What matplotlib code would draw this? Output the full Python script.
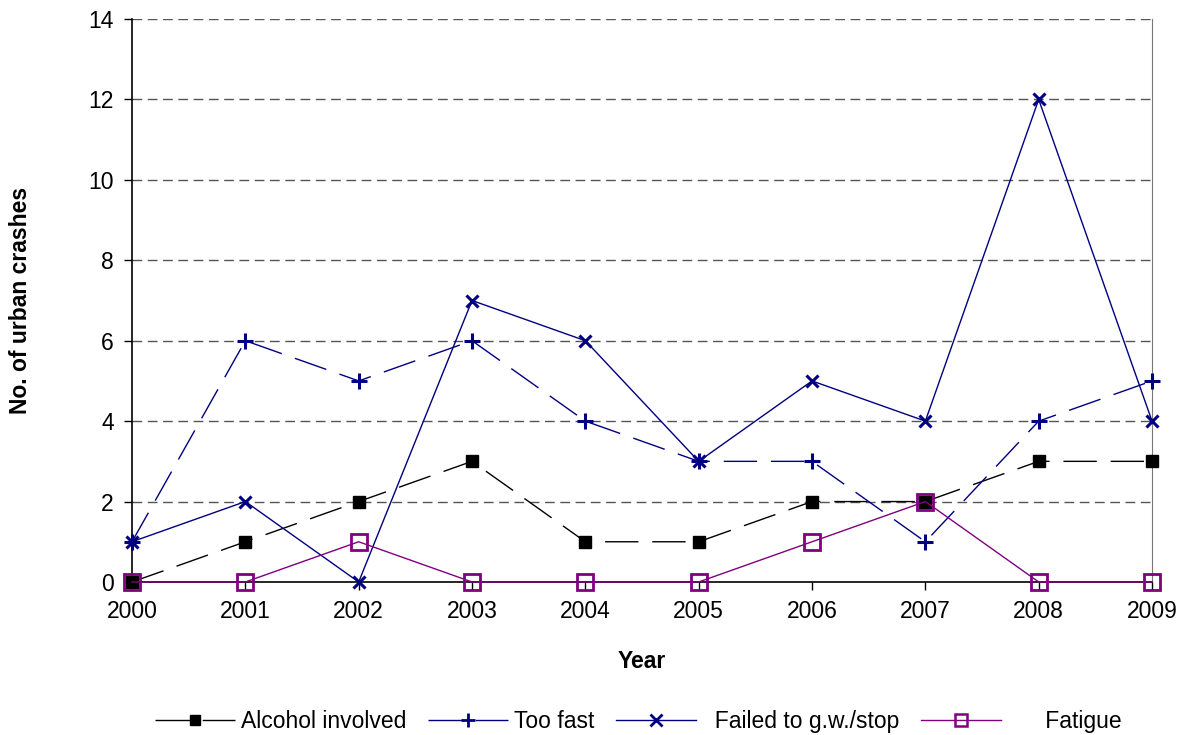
import matplotlib
matplotlib.use("Agg")
import matplotlib.pyplot as plt
from matplotlib.lines import Line2D

plt.rcParams['font.family'] = ['Liberation Sans', 'DejaVu Sans']

years = [2000, 2001, 2002, 2003, 2004, 2005, 2006, 2007, 2008, 2009]
alcohol = [0, 1, 2, 3, 1, 1, 2, 2, 3, 3]
too_fast = [1, 6, 5, 6, 4, 3, 3, 1, 4, 5]
failed_gw = [1, 2, 0, 7, 6, 3, 5, 4, 12, 4]
fatigue = [0, 0, 1, 0, 0, 0, 1, 2, 0, 0]
y_ticks = [0, 2, 4, 6, 8, 10, 12, 14]

navy = '#000080'
purple = '#800080'
fs = 16.5

fig = plt.figure(figsize=(11.84, 7.35), dpi=100)
ax = fig.add_axes([0.1115, 0.2082, 0.8615, 0.7659])

# horizontal gridlines
for t in y_ticks[1:]:
    ax.axhline(t, color='#555555', lw=1.0, ls=(0, (7, 4)), zorder=1)

dash = (0, (24, 10))
ax.plot(years, alcohol, color='black', lw=1.0, ls=dash, marker='s', ms=8,
        mfc='black', mec='black', zorder=3, clip_on=False)
ax.plot(years, too_fast, color=navy, lw=1.0, ls=dash, marker='+', ms=12,
        mew=2.2, mec=navy, zorder=3, clip_on=False)
ax.plot(years, failed_gw, color=navy, lw=1.0, ls='-', marker='x', ms=9,
        mew=2.2, mec=navy, zorder=3, clip_on=False)
ax.plot(years, fatigue, color=purple, lw=1.0, ls='-', marker='s', ms=11,
        mfc='none', mec=purple, mew=2.0, zorder=4, clip_on=False)

ax.set_xlim(2000, 2009)
ax.set_ylim(0, 14)
ax.set_xticks(years)
ax.set_yticks(y_ticks)
ax.tick_params(axis='both', labelsize=fs, direction='out', length=6, width=1)
ax.tick_params(axis='x', pad=7)
ax.tick_params(axis='y', pad=7)

ax.spines['top'].set_visible(False)
ax.spines['right'].set_color('#777777')
ax.spines['left'].set_linewidth(1.2)
ax.spines['bottom'].set_linewidth(1.2)

ax.set_xlabel('Year', fontsize=fs, fontweight='bold')
ax.xaxis.set_label_coords(0.5, -0.12)
ax.set_ylabel('No. of urban crashes', fontsize=fs, fontweight='bold')
ax.yaxis.set_label_coords(-0.098, 0.5)

handles = [
    Line2D([], [], color='black', lw=1.0, ls=(0, (26, 8)), marker='s', ms=7, mfc='black', mec='black'),
    Line2D([], [], color=navy, lw=1.0, ls=(0, (26, 8)), marker='+', ms=10, mew=2, mec=navy),
    Line2D([], [], color=navy, lw=1.0, marker='x', ms=8, mew=2, mec=navy),
    Line2D([], [], color=purple, lw=1.0, marker='s', ms=9, mfc='none', mec=purple, mew=1.8),
]
labels = ['Alcohol involved', 'Too fast', '  Failed to g.w./stop', '      Fatigue']
fig.legend(handles, labels, loc='center', bbox_to_anchor=(0.539, 0.019), ncol=4,
           frameon=False, fontsize=fs, handlelength=3.5, handletextpad=0.25,
           columnspacing=0.95)

fig.savefig('out.png', dpi=100)
